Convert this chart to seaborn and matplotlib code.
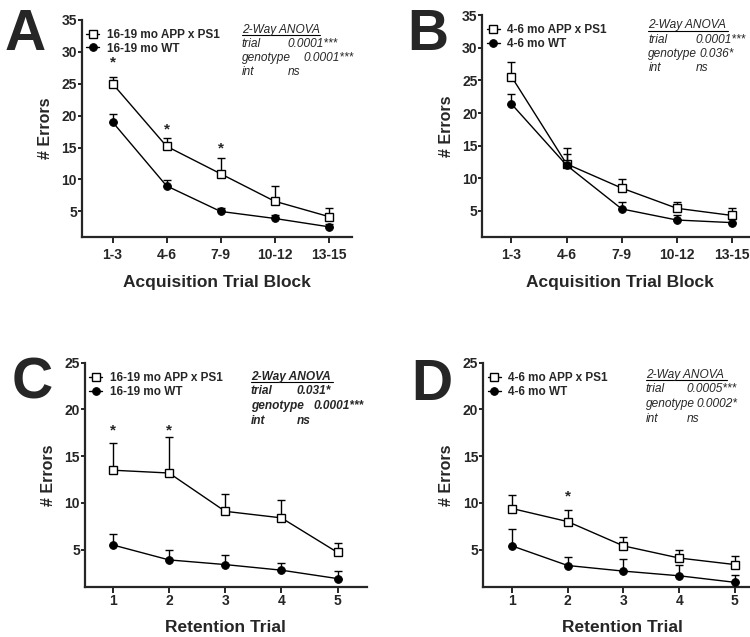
### Errors per trial block / retention trial, APP x PS1 vs WT ###

import numpy as np
import pandas as pd
import matplotlib
matplotlib.use("Agg")
import matplotlib.pyplot as plt
import seaborn as sns

# ---- data ----
blocks = ["1-3", "4-6", "7-9", "10-12", "13-15"]
trials = [1, 2, 3, 4, 5]

# A: acquisition, 16-19 mo
a_app = [25.0, 15.2, 10.9, 6.6, 4.2]
a_app_sem = [1.1, 1.3, 2.5, 2.4, 1.4]
a_wt = [19.0, 9.0, 5.0, 3.9, 2.6]
a_wt_sem = [1.3, 0.9, 0.5, 0.6, 0.4]

# B: acquisition, 4-6 mo
b_app = [25.6, 12.2, 8.5, 5.4, 4.3]
b_app_sem = [2.3, 2.4, 1.4, 1.0, 1.2]
b_wt = [21.4, 12.0, 5.3, 3.6, 3.2]
b_wt_sem = [1.6, 1.8, 1.1, 0.7, 0.6]

# C: retention, 16-19 mo
c_app = [13.5, 13.2, 9.1, 8.4, 4.7]
c_app_sem = [2.9, 3.9, 1.9, 1.9, 1.0]
c_wt = [5.5, 3.9, 3.4, 2.8, 1.9]
c_wt_sem = [1.2, 1.1, 1.0, 0.8, 0.8]

# D: retention, 4-6 mo
d_app = [9.4, 8.0, 5.4, 4.1, 3.4]
d_app_sem = [1.5, 1.2, 1.0, 0.9, 0.9]
d_wt = [5.4, 3.3, 2.7, 2.2, 1.5]
d_wt_sem = [1.8, 0.9, 1.3, 1.2, 0.8]

# significance stars (x position, y value)
a_stars = [(0, 28.3), (1, 17.8), (2, 14.9)]
c_stars = [(1, 17.8), (2, 17.8)]
d_stars = [(2, 10.7)]

anova_a = [("trial", "0.0001***"), ("genotype", "0.0001***"), ("int", "ns")]
anova_b = [("trial", "0.0001***"), ("genotype", "0.036*"), ("int", "ns")]
anova_c = [("trial", "0.031*"), ("genotype", "0.0001***"), ("int", "ns")]
anova_d = [("trial", "0.0005***"), ("genotype", "0.0002*"), ("int", "ns")]

sns.set_style("ticks")
plt.rcParams['font.family'] = ['Liberation Sans', 'DejaVu Sans']


def draw_panel(ax, x, app, app_sem, wt, wt_sem, labels, anova, stars,
               xlabel, ylim, yticks, xlim, anova_pos, xpad, bold_anova=False):
    # anova_pos = (label x, value x, genotype value x, top y) in axes fraction
    pos = np.arange(len(x)) if isinstance(x[0], str) else np.array(x)
    df = pd.DataFrame({"pos": list(pos) * 2,
                       "err": list(app) + list(wt),
                       "group": [labels[0]] * len(x) + [labels[1]] * len(x)})

    # upper-only error bars (SEM)
    ax.errorbar(pos, app, yerr=[np.zeros(len(pos)), app_sem], fmt="none",
                ecolor="black", elinewidth=1.0, capsize=2.6, capthick=1.0, zorder=2)
    ax.errorbar(pos, wt, yerr=[np.zeros(len(pos)), wt_sem], fmt="none",
                ecolor="black", elinewidth=1.0, capsize=2.6, capthick=1.0, zorder=2)

    sns.lineplot(data=df[df.group == labels[0]], x="pos", y="err", ax=ax,
                 color="black", lw=1.0, marker="s", markersize=6,
                 markerfacecolor="white", markeredgecolor="black",
                 markeredgewidth=1.0, label=labels[0], zorder=3)
    sns.lineplot(data=df[df.group == labels[1]], x="pos", y="err", ax=ax,
                 color="black", lw=1.0, marker="o", markersize=5.5,
                 markerfacecolor="black", markeredgecolor="black",
                 label=labels[1], zorder=3)

    for px, y in stars:
        ax.text(px, y, "*", ha="center", va="center", fontsize=11, fontweight="bold")

    ax.set_xlim(*xlim)
    ax.set_ylim(*ylim)
    ax.set_xticks(pos)
    ax.set_xticklabels(x)
    ax.set_yticks(yticks)
    sns.despine(ax=ax)
    for s in ["left", "bottom"]:
        ax.spines[s].set_linewidth(1.6)
    ax.tick_params(axis="x", width=1.4, length=4, labelsize=10, pad=xpad)
    ax.tick_params(axis="y", width=1.4, length=3, labelsize=10, pad=0.5)
    for t in ax.get_xticklabels() + ax.get_yticklabels():
        t.set_fontweight("bold")
    ax.set_xlabel(xlabel, fontsize=12.5, fontweight="bold", labelpad=9)
    ax.set_ylabel("# Errors", fontsize=11.5, fontweight="bold", labelpad=6)

    ax.legend(loc="upper left", bbox_to_anchor=(0.0, 0.98), frameon=False,
              handlelength=1.1, handletextpad=0.6, labelspacing=0.15,
              borderaxespad=0, prop={"size": 8.5, "weight": "bold"})

    # ANOVA summary
    lx, vx, gx, ty = anova_pos
    w = "bold" if bold_anova else "normal"
    ax.text(lx, ty, "2-Way ANOVA", transform=ax.transAxes, ha="left",
            va="center", fontsize=8.6, style="italic", fontweight=w)
    ax.plot([lx, lx + 0.29], [ty - 0.024, ty - 0.024], transform=ax.transAxes,
            color="black", lw=0.8, clip_on=False)
    for k, (lab, val) in enumerate(anova):
        yy = ty - 0.065 * (k + 1)
        ax.text(lx, yy, lab, transform=ax.transAxes, ha="left",
                va="center", fontsize=8.6, style="italic", fontweight=w)
        ax.text(gx if lab == "genotype" else vx, yy, val, transform=ax.transAxes,
                ha="left", va="center", fontsize=8.6, style="italic", fontweight=w)


fig = plt.figure(figsize=(7.5, 6.37), dpi=100)
ax_a = fig.add_axes([0.109, 0.628, 0.360, 0.341])
ax_b = fig.add_axes([0.643, 0.628, 0.366, 0.348])
ax_c = fig.add_axes([0.113, 0.0785, 0.376, 0.352])
ax_d = fig.add_axes([0.644, 0.0785, 0.373, 0.352])

draw_panel(ax_a, blocks, a_app, a_app_sem, a_wt, a_wt_sem,
           ["16-19 mo APP x PS1", "16-19 mo WT"], anova_a, a_stars,
           "Acquisition Trial Block", (1, 35), [5, 10, 15, 20, 25, 30, 35],
           (-0.57, 4.43), (0.593, 0.763, 0.82, 0.954), xpad=4)
draw_panel(ax_b, blocks, b_app, b_app_sem, b_wt, b_wt_sem,
           ["4-6 mo APP x PS1", "4-6 mo WT"], anova_b, [],
           "Acquisition Trial Block", (1, 35), [5, 10, 15, 20, 25, 30, 35],
           (-0.53, 4.45), (0.605, 0.778, 0.79, 0.955), xpad=4)
draw_panel(ax_c, trials, c_app, c_app_sem, c_wt, c_wt_sem,
           ["16-19 mo APP x PS1", "16-19 mo WT"], anova_c, c_stars,
           "Retention Trial", (1, 25), [5, 10, 15, 20, 25],
           (0.5, 5.52), (0.589, 0.752, 0.81, 0.937), xpad=1, bold_anova=True)
draw_panel(ax_d, trials, d_app, d_app_sem, d_wt, d_wt_sem,
           ["4-6 mo APP x PS1", "4-6 mo WT"], anova_d, d_stars,
           "Retention Trial", (1, 25), [5, 10, 15, 20, 25],
           (0.48, 5.5), (0.582, 0.729, 0.764, 0.946), xpad=1)

# panel letters
for lab, xx, yy in [("A", 0.006, 0.922), ("B", 0.543, 0.922),
                    ("C", 0.016, 0.375), ("D", 0.548, 0.372)]:
    fig.text(xx, yy, lab, fontsize=41, fontweight="bold", ha="left", va="baseline")

fig.savefig("out.png", dpi=100)
